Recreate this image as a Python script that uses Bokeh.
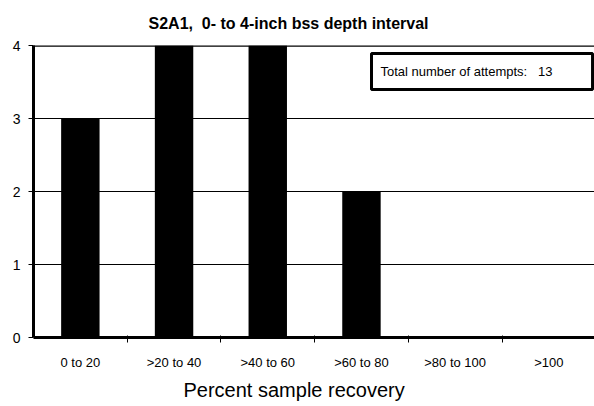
from bokeh.plotting import figure
from bokeh.models import Range1d, FixedTicker, Span, BoxAnnotation, Label, ColumnDataSource, Title
from bokeh.embed import file_html
from bokeh.resources import INLINE

# ---- data ----
categories = ["0 to 20", ">20 to 40", ">40 to 60", ">60 to 80", ">80 to 100", ">100"]
counts = [3, 4, 4, 2, 0, 0]
y_ticks = [0, 1, 2, 3, 4]
title_text = "S2A1,\u00a0 0- to 4-inch bss depth interval"
x_label = "Percent sample recovery"
note_text = "Total number of attempts:\u00a0\u00a0 13"

centers = [i + 0.5 for i in range(len(categories))]
bounds = list(range(1, len(categories)))

FONT = "Liberation Sans"

source = ColumnDataSource(data=dict(x=centers, top=counts, cat=categories))

p = figure(width=594, height=406, output_backend="svg", toolbar_location=None,
           x_range=Range1d(0, 5.987), y_range=Range1d(0, 4),
           min_border_left=33, min_border_right=0, min_border_top=45, min_border_bottom=69,
           background_fill_color="white", border_fill_color="white",
           outline_line_color=None)

# title
p.title.text = title_text
p.title.text_font = FONT
p.title.text_font_size = "16px"
p.title.text_font_style = "bold"
p.title.text_color = "black"
p.title.align = "left"
p.title.vertical_align = "top"
p.title.offset = 115
p.title.standoff = 24

# bars
p.vbar(x="x", top="top", width=0.41, source=source, fill_color="black", line_color=None)

# grid
p.xgrid.visible = False
p.ygrid.grid_line_color = "black"
p.ygrid.grid_line_width = 1

# top frame line
p.add_layout(Span(location=4, dimension="width", line_color="black", line_width=2.5))

# y axis
p.yaxis.ticker = FixedTicker(ticks=y_ticks)
p.yaxis.axis_line_width = 3
p.yaxis.axis_line_color = "black"
p.yaxis.major_tick_out = 5
p.yaxis.major_tick_in = 0
p.yaxis.major_tick_line_color = "black"
p.yaxis.minor_tick_line_color = None
p.yaxis.major_label_text_font = FONT
p.yaxis.major_label_text_font_size = "14px"
p.yaxis.major_label_text_color = "black"
p.yaxis.major_label_standoff = 8

# x axis
p.xaxis.ticker = FixedTicker(ticks=centers, minor_ticks=bounds)
p.xaxis.major_label_overrides = {c: lab for c, lab in zip(centers, categories)}
p.xaxis.axis_line_width = 3
p.xaxis.axis_line_color = "black"
p.xaxis.major_tick_line_color = None
p.xaxis.major_tick_out = 0
p.xaxis.major_tick_in = 0
p.xaxis.minor_tick_line_color = "black"
p.xaxis.minor_tick_out = 5
p.xaxis.minor_tick_in = 2
p.xaxis.major_label_text_font = FONT
p.xaxis.major_label_text_font_size = "13px"
p.xaxis.major_label_text_color = "black"
p.xaxis.major_label_standoff = 12

# x axis title (placed below the axis, shifted like the original)
p.add_layout(Title(text=x_label, align="left", offset=150, standoff=9,
                   text_font=FONT, text_font_size="20px", text_font_style="normal",
                   text_color="black"), "below")

# note box
p.add_layout(BoxAnnotation(left=3.607, right=5.966, top=3.89, bottom=3.396,
                           fill_color="white", fill_alpha=1.0,
                           line_color="black", line_width=3, line_alpha=1.0))
p.add_layout(Label(x=3.703, y=3.643, text=note_text, text_font=FONT,
                   text_font_size="13px", text_baseline="middle", text_color="black"))

open("out.html", "w").write(file_html(p, INLINE))
